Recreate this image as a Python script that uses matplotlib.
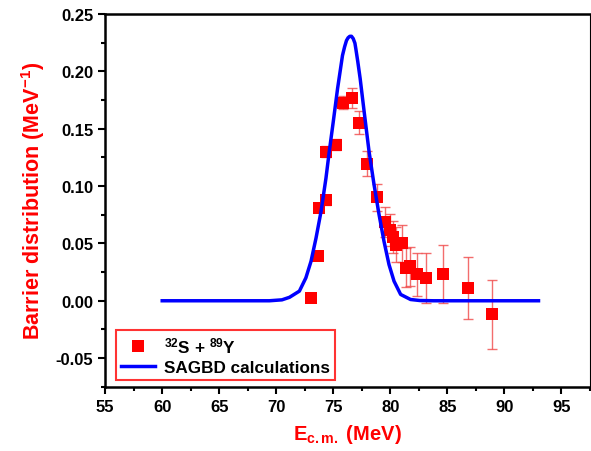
import numpy as np
import matplotlib.pyplot as plt
from matplotlib.ticker import MultipleLocator

plt.rcParams['font.family'] = ['Liberation Sans', 'DejaVu Sans']
plt.rcParams['font.weight'] = 'bold'
plt.rcParams['mathtext.fontset'] = 'custom'
plt.rcParams['mathtext.rm'] = 'Liberation Sans:bold'
plt.rcParams['mathtext.it'] = 'Liberation Sans:bold'
plt.rcParams['mathtext.bf'] = 'Liberation Sans:bold'

# experimental barrier distribution (32S + 89Y)
e_cm = [73.05, 73.7, 73.72, 74.36, 74.4, 75.2, 75.87, 76.63, 77.3, 78.0, 78.8,
        79.54, 79.95, 80.24, 80.53, 81.05, 81.35, 81.7, 82.37, 83.1, 84.6, 86.8, 88.95]
d_exp = [0.0026, 0.039, 0.081, 0.0877, 0.130, 0.136, 0.1727, 0.177, 0.155, 0.1195, 0.090,
         0.0686, 0.062, 0.0553, 0.049, 0.050, 0.0287, 0.030, 0.023, 0.020, 0.0234, 0.0113, -0.0119]
d_err = [0.002, 0.003, 0.004, 0.004, 0.005, 0.005, 0.006, 0.0087, 0.010, 0.0107, 0.012,
         0.013, 0.014, 0.014, 0.015, 0.016, 0.017, 0.017, 0.019, 0.022, 0.025, 0.027, 0.030]

# SAGBD calculation
e_calc = [60.0, 65.0, 69.4, 70.5, 71.16, 72.03, 72.6, 73.05, 73.49, 73.93, 74.36, 74.65,
          75.0, 75.38, 75.81, 76.0, 76.16, 76.3, 76.45, 76.6, 76.75, 76.9, 76.98, 77.15,
          77.36, 77.71, 78.14, 78.58, 79.02, 79.45, 79.89, 80.33, 80.91, 81.78, 82.6, 83.8,
          88.0, 93.0]
d_calc = [0.0, 0.0, 0.0, 0.0008, 0.003, 0.0084, 0.020, 0.0344, 0.0547, 0.0779, 0.1068, 0.130,
          0.156, 0.185, 0.2138, 0.2215, 0.2268, 0.2292, 0.2305, 0.2305, 0.2285, 0.2245, 0.2196,
          0.2085, 0.1936, 0.1647, 0.130, 0.101, 0.0749, 0.0518, 0.0315, 0.0171, 0.0055, 0.0011,
          0.0002, 0.0, 0.0, 0.0]

fig = plt.figure(figsize=(5.91, 4.52), dpi=100)
ax = fig.add_axes([0.178, 0.142, 0.82, 0.825])

ax.errorbar(e_cm, d_exp, yerr=d_err, fmt='none', ecolor='#f04848', alpha=0.8,
            elinewidth=1.0, capsize=3.5, capthick=1.0, zorder=2)
ax.plot(e_cm, d_exp, 's', color='red', markersize=8.5, markeredgewidth=0,
        label='$^{32}$S + $^{89}$Y', zorder=3)
ax.plot(e_calc, d_calc, color='#0000ff', lw=2.5, label='SAGBD calculations', zorder=4,
        solid_joinstyle='round')

ax.set_xlim(55, 97.5)
ax.set_ylim(-0.075, 0.25)
ax.xaxis.set_major_locator(MultipleLocator(5))
ax.xaxis.set_minor_locator(MultipleLocator(2.5))
ax.yaxis.set_major_locator(MultipleLocator(0.05))
ax.yaxis.set_minor_locator(MultipleLocator(0.025))
ax.yaxis.set_major_formatter(plt.FormatStrFormatter('%.2f'))

ax.tick_params(which='major', direction='out', length=5, width=1.5, labelsize=12)
ax.tick_params(which='minor', direction='out', length=3, width=1.5)
for s in ['left', 'bottom', 'top']:
    ax.spines[s].set_linewidth(1.8)
ax.spines['right'].set_linewidth(0.8)

ax.set_xlabel('E$_{\\mathrm{c.m.}}$ (MeV)', color='red', fontsize=14.5, fontweight='bold',
              labelpad=6)
ax.set_ylabel('Barrier distribution (MeV$^{-1}$)', color='red', fontsize=15.5,
              fontweight='bold', labelpad=6)

leg = ax.legend(loc='lower left', bbox_to_anchor=(0.015, 0.01), fontsize=12.3,
                frameon=True, fancybox=False, borderpad=0.3, handlelength=2.0,
                handletextpad=0.5, labelspacing=0.25, borderaxespad=0.2)
leg.get_frame().set_edgecolor('red')
leg.get_frame().set_linewidth(1.5)

fig.savefig('out.png', dpi=100)
